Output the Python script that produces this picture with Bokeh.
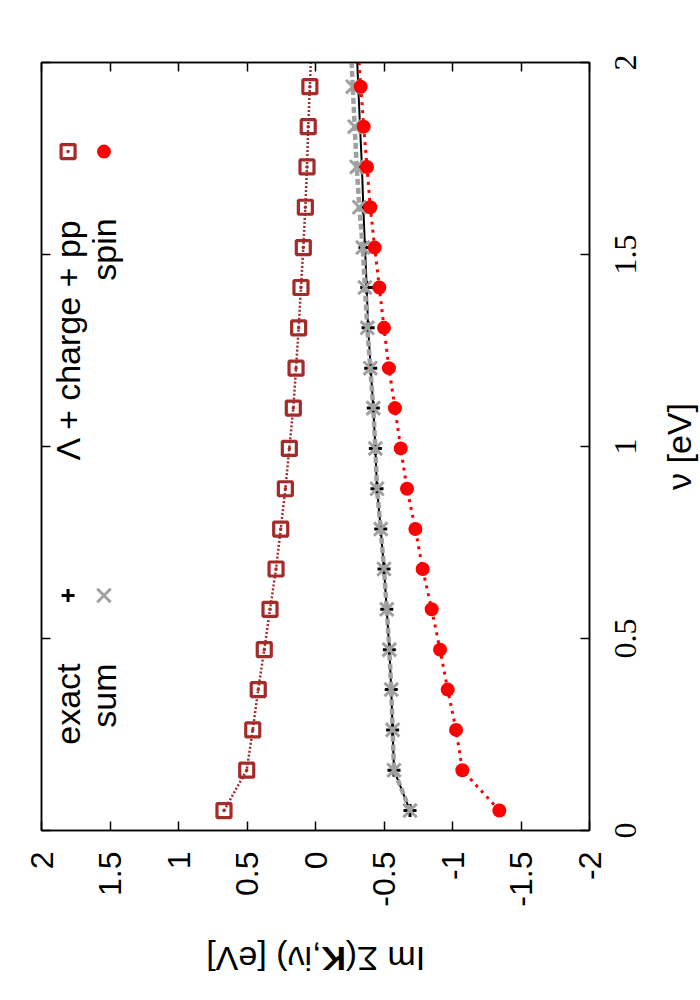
import math
from bokeh.plotting import figure
from bokeh.layouts import row, column
from bokeh.models import Range1d, LinearAxis, FixedTicker, Label, LabelSet, ColumnDataSource
from bokeh.embed import file_html
from bokeh.resources import INLINE

# ---------------- data ----------------
nu = [0.052, 0.157, 0.262, 0.367, 0.471, 0.576, 0.681, 0.785, 0.890, 0.995,
      1.100, 1.204, 1.309, 1.414, 1.518, 1.623, 1.728, 1.833, 1.937, 2.042]
exact = [-0.690, -0.573, -0.563, -0.553, -0.539, -0.520, -0.500, -0.476, -0.449, -0.437,
         -0.422, -0.403, -0.384, -0.374, -0.361, -0.349, -0.339, -0.325, -0.312, -0.300]
sum_vals = [-0.690, -0.573, -0.563, -0.553, -0.539, -0.520, -0.500, -0.476, -0.449, -0.437,
            -0.422, -0.400, -0.378, -0.361, -0.345, -0.320, -0.301, -0.286, -0.272, -0.258]
lam_charge_pp = [0.668, 0.502, 0.458, 0.418, 0.374, 0.332, 0.288, 0.254, 0.220, 0.191,
                 0.162, 0.142, 0.123, 0.106, 0.089, 0.074, 0.062, 0.053, 0.041, 0.030]
spin = [-1.342, -1.072, -1.026, -0.965, -0.909, -0.848, -0.782, -0.729, -0.668, -0.622,
        -0.580, -0.536, -0.500, -0.466, -0.432, -0.400, -0.376, -0.352, -0.330, -0.310]

im_ticks = [2, 1.5, 1, 0.5, 0, -0.5, -1, -1.5, -2]
im_tick_labels = ["2", "1.5", "1", "0.5", "0", "-0.5", "-1", "-1.5", "-2"]
nu_ticks = [0, 0.5, 1, 1.5, 2]
nu_tick_labels = ["0", "0.5", "1", "1.5", "2"]

series_names = ["exact", "sum", "\u039b + charge + pp", "spin"]
nu_title = "\u03bd [eV]"
im_title_parts = ["Im \u03a3(", "K", ",i\u03bd) [eV]"]

# ---------------- style / layout ----------------
FONT = "Liberation Sans"
TICK_FS = 32
TEXT_FS = 34
BROWN = "#a52a2a"
GRAY = "#a0a0a0"
RED = "#ff0000"
FW, FH = 548, 768            # data frame
B_LEFT, B_TOP, B_RIGHT, B_BOTTOM = 41, 62, 18, 100
MAIN_W = B_LEFT + FW + B_RIGHT
MAIN_H = B_TOP + FH + B_BOTTOM
TOTAL_W = 699
SIDE_W = TOTAL_W - MAIN_W    # strip right of the plot (nu tick labels + title)
FOOT_H = 65                  # strip below the plot (Im Sigma title)
TOTAL_H = MAIN_H + FOOT_H
NU_MIN, NU_MAX = 0, 2
IM_LEFT, IM_RIGHT = 2, -2
NU_LABEL_GAP = 36            # frame edge -> centre of nu tick labels
NU_TITLE_GAP = 89            # frame edge -> centre of nu title

p = figure(x_range=Range1d(IM_LEFT, IM_RIGHT), y_range=Range1d(NU_MIN, NU_MAX),
           frame_width=FW, frame_height=FH,
           min_border_left=B_LEFT, min_border_right=B_RIGHT,
           min_border_top=B_TOP, min_border_bottom=B_BOTTOM,
           x_axis_location=None, y_axis_location=None,
           output_backend="svg", toolbar_location=None,
           background_fill_color="white", border_fill_color="white",
           outline_line_color="black", outline_line_width=1.5)
p.grid.visible = False


def make_axis(ticks, labels, show):
    return LinearAxis(
        ticker=FixedTicker(ticks=ticks),
        major_label_overrides={t: (l if show else "") for t, l in zip(ticks, labels)},
        major_tick_in=9, major_tick_out=0,
        major_tick_line_color="black", major_tick_line_width=1.5,
        minor_tick_line_color=None,
        axis_line_color="black", axis_line_width=1.5,
        major_label_standoff=0 if not show else 21,
        major_label_text_font=FONT, major_label_text_font_size=f"{TICK_FS}px",
        major_label_text_color="black")


bottom = make_axis(im_ticks, im_tick_labels, True)
bottom.major_label_orientation = math.pi / 2
p.add_layout(bottom, "below")
p.add_layout(make_axis(im_ticks, im_tick_labels, False), "above")
p.add_layout(make_axis(nu_ticks, nu_tick_labels, False), "right")
p.add_layout(make_axis(nu_ticks, nu_tick_labels, False), "left")

# ---------------- series ----------------
src = ColumnDataSource(dict(nu=nu, exact=exact, sumv=sum_vals, lcp=lam_charge_pp, spin=spin))

p.line("exact", "nu", source=src, line_color="black", line_width=2)
p.scatter("exact", "nu", source=src, marker="cross", size=13, line_color="black", line_width=3)

p.line("sumv", "nu", source=src, line_color=GRAY, line_width=4.5, line_dash="6 3")
p.scatter("sumv", "nu", source=src, marker="x", size=19, line_color=GRAY, line_width=3)

p.line("lcp", "nu", source=src, line_color=BROWN, line_width=2.5, line_dash="2 2")
p.scatter("lcp", "nu", source=src, marker="square_dot", size=14, line_color=BROWN,
          fill_color=None, line_width=3.2)

p.line("spin", "nu", source=src, line_color=RED, line_width=3, line_dash="3 5")
p.scatter("spin", "nu", source=src, marker="circle", size=14, fill_color=RED, line_color=None)

# ---------------- legend (rotated, drawn by hand) ----------------
col_x = [1.806, 1.544]       # data x of the two key columns
sample_y = [0.612, 1.768]    # data y of the key samples
text_end_y = [0.435, 1.594]  # data y where the key texts end

key_src_1 = ColumnDataSource(dict(x=[col_x[0]], y=[sample_y[0]]))
key_src_2 = ColumnDataSource(dict(x=[col_x[1]], y=[sample_y[0]]))
key_src_3 = ColumnDataSource(dict(x=[col_x[0]], y=[sample_y[1]]))
key_src_4 = ColumnDataSource(dict(x=[col_x[1]], y=[sample_y[1]]))
p.scatter("x", "y", source=key_src_1, marker="cross", size=13, line_color="black", line_width=3)
p.scatter("x", "y", source=key_src_2, marker="x", size=19, line_color=GRAY, line_width=3)
p.scatter("x", "y", source=key_src_3, marker="square_dot", size=14, line_color=BROWN,
          fill_color=None, line_width=3.2)
p.scatter("x", "y", source=key_src_4, marker="circle", size=14, fill_color=RED, line_color=None)

for i, name in enumerate(series_names):
    cx = col_x[i % 2]
    ty = text_end_y[i // 2]
    p.add_layout(Label(x=cx, y=ty, text=name, angle=math.pi / 2,
                       text_align="right", text_baseline="middle",
                       text_font=FONT, text_font_size=f"{TEXT_FS}px", text_color="black"))


def blank_fig(fw, fh, xr, yr, left=0, right=0, top=0, bottom=0):
    f = figure(x_range=xr, y_range=yr, frame_width=fw, frame_height=fh,
               min_border=0, min_border_left=left, min_border_right=right,
               min_border_top=top, min_border_bottom=bottom,
               x_axis_location=None, y_axis_location=None,
               output_backend="svg", toolbar_location=None,
               background_fill_color="white", border_fill_color="white",
               outline_line_color=None)
    f.grid.visible = False
    return f


# ---------------- right strip: nu tick labels and nu title ----------------
px_per_nu = FH / (NU_MAX - NU_MIN)
side_bottom_px = TOTAL_H - (B_TOP + FH)          # strip pixels below nu = NU_MIN
side = blank_fig(SIDE_W, TOTAL_H, Range1d(0, SIDE_W),
                 Range1d(NU_MIN - side_bottom_px / px_per_nu,
                         NU_MIN + (TOTAL_H - side_bottom_px) / px_per_nu))
nu_lab_src = ColumnDataSource(dict(y=nu_ticks, text=nu_tick_labels))
side.add_layout(LabelSet(x=NU_LABEL_GAP - B_RIGHT, x_units="screen", y="y", text="text",
                         source=nu_lab_src, angle=math.pi / 2,
                         text_align="center", text_baseline="middle",
                         text_font=FONT, text_font_size=f"{TICK_FS}px", text_color="black"))
side.add_layout(Label(x=NU_TITLE_GAP - B_RIGHT, y=(NU_MIN + NU_MAX) / 2, x_units="screen",
                      text=nu_title, angle=math.pi / 2,
                      text_align="center", text_baseline="middle",
                      text_font=FONT, text_font_size=f"{TEXT_FS}px", text_color="black"))

# ---------------- bottom strip: Im Sigma title (upside down) ----------------
# same left/right borders as the main plot so that the frames line up
foot = blank_fig(FW, FOOT_H, Range1d(0, FW), Range1d(0, FOOT_H), left=B_LEFT, right=B_RIGHT)
em = [2.315, 0.722, 3.39]
widths = [w * TEXT_FS for w in em]
start = FW / 2 + sum(widths) / 2        # right end (text start, upside down), frame coords
centers = []
acc = start
for w in widths:
    centers.append(acc - w / 2)
    acc -= w
styles = ["normal", "bold", "normal"]
for part, cx, st in zip(im_title_parts, centers, styles):
    foot.add_layout(Label(x=cx, y=37, x_units="screen", y_units="screen",
                          text=part, angle=math.pi,
                          text_align="center", text_baseline="alphabetic", text_font_style=st,
                          text_font=FONT, text_font_size=f"{TEXT_FS}px", text_color="black"))

layout = row(column(p, foot, spacing=0), side, spacing=0)
open("out.html", "w").write(file_html(layout, INLINE))
